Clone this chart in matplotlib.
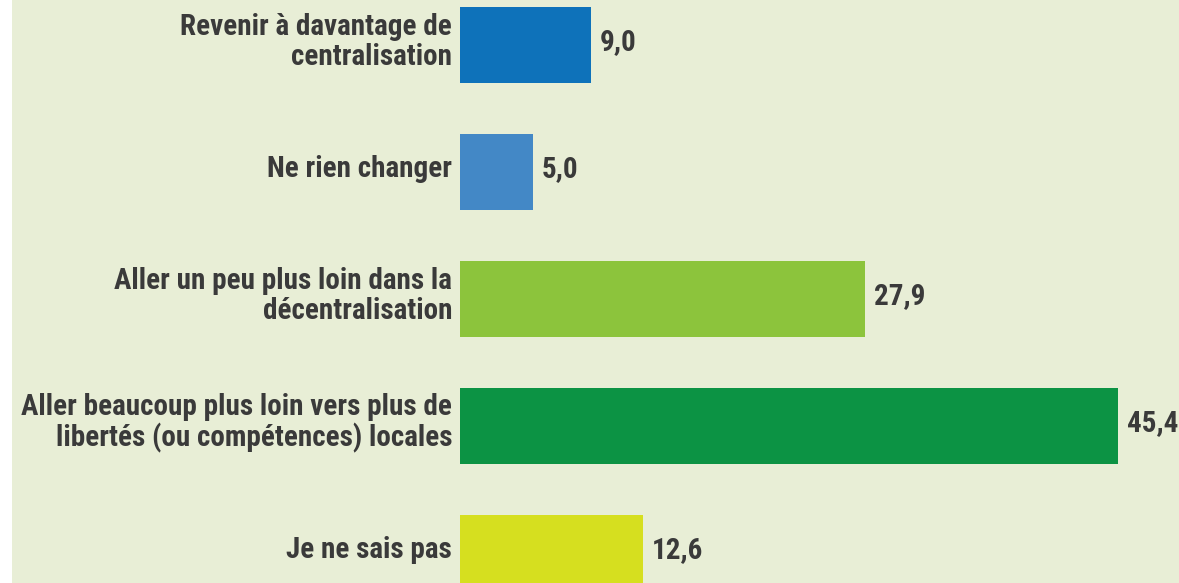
import matplotlib
matplotlib.use("Agg")
import matplotlib.pyplot as plt
from matplotlib.patches import Rectangle
from matplotlib.transforms import offset_copy

categories = [
    "Revenir à davantage de\ncentralisation",
    "Ne rien changer",
    "Aller un peu plus loin dans la\ndécentralisation",
    "Aller beaucoup plus loin vers plus de\nlibertés (ou compétences) locales",
    "Je ne sais pas",
]
values = [9.0, 5.0, 27.9, 45.4, 12.6]
value_labels = ["9,0", "5,0", "27,9", "45,4", "12,6"]
colors = ["#0e72ba", "#4388c6", "#8cc43c", "#0c9344", "#d6df1f"]

BG = "#e8eed6"
TXT = "#3a3a3a"
FONT = ["Roboto Condensed", "DejaVu Sans"]

W, H = 1179, 583
fig = plt.figure(figsize=(W / 100, H / 100), dpi=100, facecolor=BG)
fig.patches.append(Rectangle((0, 0), 12 / W, 1, transform=fig.transFigure,
                             facecolor="white", edgecolor="none", zorder=0))

ax = fig.add_axes([460 / W, 0, 719 / W, 1])
ax.set_facecolor(BG)
ypos = list(range(len(values)))
ax.barh(ypos, values, height=0.6, color=colors, edgecolor="none")
ax.set_xlim(0, 719 / 14.5)
ax.set_ylim(4.236, -0.354)
ax.axis("off")

for y, v, lab, cat in zip(ypos, values, value_labels, categories):
    t = offset_copy(ax.transData, fig=fig, x=9, y=3, units="dots")
    ax.text(v, y, lab, transform=t, ha="left", va="center",
            fontsize=21, fontweight="bold", family=FONT, color=TXT,
            clip_on=False)
    t2 = offset_copy(ax.transData, fig=fig, x=-8, y=3, units="dots")
    ax.text(0, y, cat, transform=t2, ha="right", va="center",
            fontsize=21, fontweight="bold", family=FONT, color=TXT,
            linespacing=1.1, multialignment="right", clip_on=False)

fig.savefig("out.png", dpi=100, facecolor=BG)
